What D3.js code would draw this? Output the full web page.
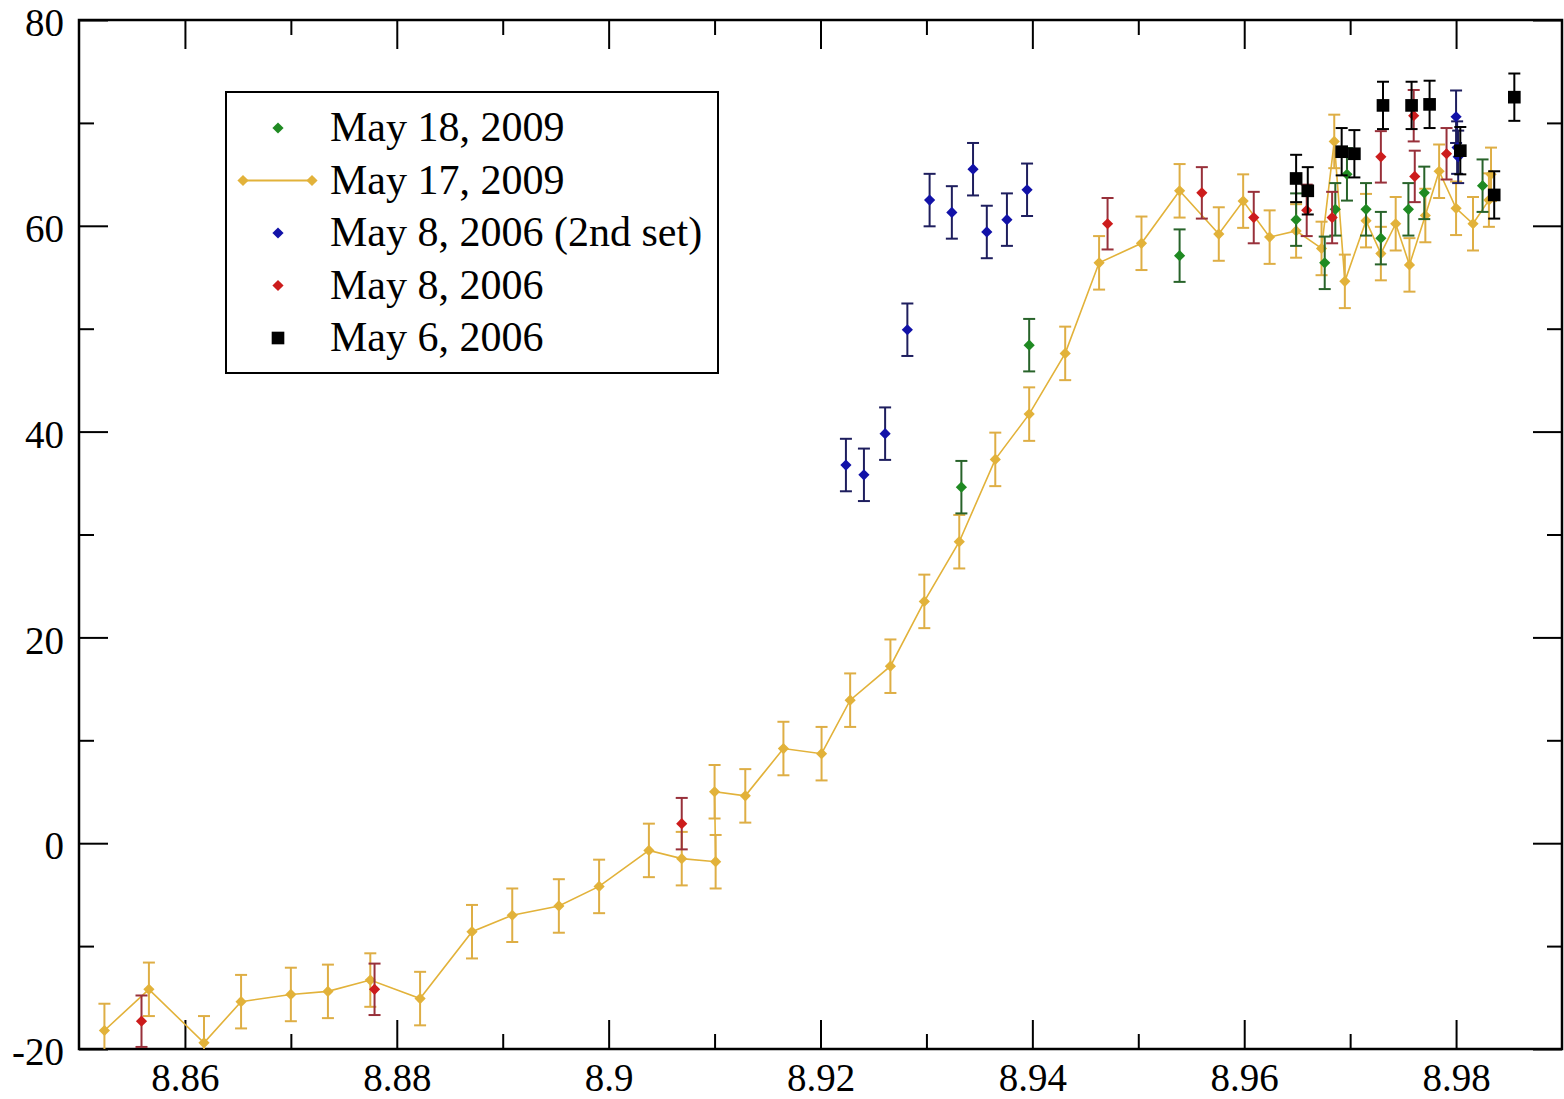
<!DOCTYPE html>
<html>
<head>
<meta charset="utf-8">
<script src="https://cdn.jsdelivr.net/npm/d3@7"></script>
<style>
  body { margin: 0; background: #fff; }
  svg { display: block; }
</style>
</head>
<body>
<div id="chart"></div>
<script>
// Axis ticks
const xTicks = [8.86, 8.88, 8.9, 8.92, 8.94, 8.96, 8.98];
const xMinorTicks = [8.87, 8.89, 8.91, 8.93, 8.95, 8.97];
const yTicks = [-20, 0, 20, 40, 60, 80];
const yMinorTicks = [-10, 10, 30, 50, 70];

// May 17, 2009 (connected)
const may17X = [8.8524, 8.8566, 8.8618, 8.8653, 8.8700, 8.8735, 8.8775, 8.8822, 8.8871, 8.8909,
                8.8953, 8.8991, 8.9038, 8.9069, 8.9101, 8.9100, 8.9129, 8.9165, 8.9201, 8.9228,
                8.9266, 8.9298, 8.9331, 8.9365, 8.9397, 8.9431, 8.9463, 8.9503, 8.9539, 8.9576,
                8.9599, 8.9624, 8.9649, 8.9673, 8.9685, 8.9695, 8.9715, 8.9729, 8.9743, 8.9756,
                8.9771, 8.9784, 8.9800, 8.9816, 8.9831, 8.9833];
const may17Y = [-18.2, -14.2, -19.4, -15.4, -14.7, -14.4, -13.3, -15.1, -8.6, -7.0,
                -6.1, -4.2, -0.7, -1.5, -1.8, 5.0, 4.6, 9.2, 8.7, 13.9,
                17.2, 23.5, 29.3, 37.3, 41.7, 47.6, 56.4, 58.3, 63.4, 59.2,
                62.4, 58.9, 59.5, 57.8, 68.2, 54.6, 60.5, 57.3, 60.2, 56.2,
                61.0, 65.3, 61.7, 60.2, 62.5, 65.0];
const may17Err = 2.6;

// May 18, 2009
const may18X = [8.9333, 8.9397, 8.9539, 8.9649, 8.9676, 8.9686, 8.9697, 8.9715, 8.9729, 8.9755, 8.9770, 8.9825];
const may18Y = [34.6, 48.4, 57.1, 60.6, 56.4, 61.6, 65.0, 61.6, 58.8, 61.6, 63.2, 63.9];
const may18Err = 2.55;

// May 8, 2006 (2nd set)
const may8bX = [8.9224, 8.9241, 8.9261, 8.9282, 8.9303, 8.9324, 8.9344, 8.9357, 8.9376, 8.9395, 8.9800, 8.9801, 8.9802];
const may8bY = [36.75, 35.8, 39.8, 49.9, 62.5, 61.3, 65.5, 59.4, 60.6, 63.5, 70.6, 67.6, 66.7];
const may8bErr = 2.55;

// May 8, 2006
const may8X = [8.8559, 8.8779, 8.9069, 8.9471, 8.9560, 8.9609, 8.9659, 8.9683, 8.9729, 8.9760, 8.9761, 8.9791];
const may8Y = [-17.3, -14.2, 1.9, 60.2, 63.2, 60.8, 61.5, 60.8, 66.7, 70.7, 64.8, 67.0];
const may8Err = 2.5;

// May 6, 2006
const may6X = [8.9649, 8.9660, 8.9692, 8.9704, 8.9731, 8.9758, 8.9775, 8.9804, 8.9836, 8.9855];
const may6Y = [64.6, 63.4, 67.2, 67.0, 71.7, 71.7, 71.8, 67.3, 63.0, 72.5];
const may6Err = 2.3;

const margin = {top: 20, right: 2, bottom: 50, left: 79};
const W = 1564, H = 1099;
const width = W - margin.left - margin.right;
const height = H - margin.top - margin.bottom;
const fontFamily = '"Liberation Serif", "DejaVu Serif", serif';

const x = d3.scaleLinear().domain([8.85, 8.99]).range([0, width]);
const y = d3.scaleLinear().domain([-20, 80]).range([height, 0]);

const svg = d3.select('#chart').append('svg')
    .attr('width', W)
    .attr('height', H)
    .style('font-family', fontFamily);

const g = svg.append('g')
    .attr('transform', `translate(${margin.left},${margin.top})`);

g.append('defs').append('clipPath')
    .attr('id', 'plot-clip')
    .append('rect')
    .attr('width', width)
    .attr('height', height);

// Axes: ticks pointing inward on all four sides
const fmt = d => String(+d.toFixed(2));

function styleAxis(sel) {
    sel.attr('font-family', fontFamily).attr('font-size', 39);
    sel.select('.domain').remove();
    sel.selectAll('line').attr('stroke', '#000').attr('stroke-width', 2);
    sel.selectAll('text').attr('fill', '#000');
}

g.append('g')
    .attr('transform', `translate(0,${height})`)
    .call(d3.axisBottom(x).tickValues(xTicks).tickFormat(fmt).tickSize(-29).tickPadding(14))
    .call(styleAxis);
g.append('g')
    .attr('transform', `translate(0,${height})`)
    .call(d3.axisBottom(x).tickValues(xMinorTicks).tickFormat('').tickSize(-15))
    .call(styleAxis);
g.append('g')
    .call(d3.axisTop(x).tickValues(xTicks).tickFormat('').tickSize(-29))
    .call(styleAxis);
g.append('g')
    .call(d3.axisTop(x).tickValues(xMinorTicks).tickFormat('').tickSize(-15))
    .call(styleAxis);

g.append('g')
    .call(d3.axisLeft(y).tickValues(yTicks).tickFormat(d => String(d)).tickSize(-29).tickPadding(15))
    .call(styleAxis)
    .selectAll('text').attr('dy', '0.4em');
g.append('g')
    .call(d3.axisLeft(y).tickValues(yMinorTicks).tickFormat('').tickSize(-15))
    .call(styleAxis);
g.append('g')
    .attr('transform', `translate(${width},0)`)
    .call(d3.axisRight(y).tickValues(yTicks).tickFormat('').tickSize(-29))
    .call(styleAxis);
g.append('g')
    .attr('transform', `translate(${width},0)`)
    .call(d3.axisRight(y).tickValues(yMinorTicks).tickFormat('').tickSize(-15))
    .call(styleAxis);

g.append('rect')
    .attr('width', width)
    .attr('height', height)
    .attr('fill', 'none')
    .attr('stroke', '#000')
    .attr('stroke-width', 2.5);

// Series definitions
const series = [
    {name: 'May 18, 2009', xs: may18X, ys: may18Y, err: may18Err, color: '#1f8a22', barColor: '#28632a', symbol: 'diamond'},
    {name: 'May 17, 2009', xs: may17X, ys: may17Y, err: may17Err, color: '#e2b23a', barColor: '#deae45', symbol: 'diamond', line: true},
    {name: 'May 8, 2006 (2nd set)', xs: may8bX, ys: may8bY, err: may8bErr, color: '#1212a8', barColor: '#1e1e5e', symbol: 'diamond'},
    {name: 'May 8, 2006', xs: may8X, ys: may8Y, err: may8Err, color: '#cc1c1c', barColor: '#98303a', symbol: 'diamond'},
    {name: 'May 6, 2006', xs: may6X, ys: may6Y, err: may6Err, color: '#000000', barColor: '#000000', symbol: 'square'}
];

const symbolPath = {
    diamond: d3.symbol().type(d3.symbolDiamond2).size(80)(),
    square: d3.symbol().type(d3.symbolSquare).size(160)()
};

const plot = g.append('g').attr('clip-path', 'url(#plot-clip)');
const drawOrder = [1, 0, 3, 2, 4];
const cap = 6;

drawOrder.forEach(idx => {
    const s = series[idx];
    const pts = s.xs.map((v, i) => ({x: v, y: s.ys[i]}));
    const layer = plot.append('g');

    if (s.line) {
        layer.append('path')
            .datum(pts)
            .attr('fill', 'none')
            .attr('stroke', s.color)
            .attr('stroke-width', 1.6)
            .attr('d', d3.line().x(d => x(d.x)).y(d => y(d.y)));
    }

    const bars = layer.selectAll('g.err')
        .data(pts)
        .enter().append('g')
        .attr('class', 'err')
        .attr('stroke', s.barColor)
        .attr('stroke-width', 2);
    bars.append('line')
        .attr('x1', d => x(d.x)).attr('x2', d => x(d.x))
        .attr('y1', d => y(d.y - s.err)).attr('y2', d => y(d.y + s.err));
    bars.append('line')
        .attr('x1', d => x(d.x) - cap).attr('x2', d => x(d.x) + cap)
        .attr('y1', d => y(d.y + s.err)).attr('y2', d => y(d.y + s.err));
    bars.append('line')
        .attr('x1', d => x(d.x) - cap).attr('x2', d => x(d.x) + cap)
        .attr('y1', d => y(d.y - s.err)).attr('y2', d => y(d.y - s.err));

    layer.selectAll('path.mark')
        .data(pts)
        .enter().append('path')
        .attr('class', 'mark')
        .attr('d', symbolPath[s.symbol])
        .attr('transform', d => `translate(${x(d.x)},${y(d.y)})`)
        .attr('fill', s.color);
});

// Legend
const legend = svg.append('g').attr('transform', 'translate(226,92)');
legend.append('rect')
    .attr('width', 492)
    .attr('height', 281)
    .attr('fill', '#fff')
    .attr('stroke', '#000')
    .attr('stroke-width', 2);

series.forEach((s, i) => {
    const cy = 36 + i * 52.5;
    const item = legend.append('g').attr('transform', `translate(0,${cy})`);
    if (s.line) {
        item.append('line')
            .attr('x1', 17).attr('x2', 86)
            .attr('stroke', s.color)
            .attr('stroke-width', 2);
        [17, 86].forEach(px => {
            item.append('path')
                .attr('d', symbolPath[s.symbol])
                .attr('transform', `translate(${px},0)`)
                .attr('fill', s.color);
        });
    } else {
        item.append('path')
            .attr('d', symbolPath[s.symbol])
            .attr('transform', 'translate(52,0)')
            .attr('fill', s.color);
    }
    item.append('text')
        .attr('x', 104)
        .attr('y', 13)
        .style('font-size', '42px')
        .attr('fill', '#000')
        .text(s.name);
});
</script>
</body>
</html>
